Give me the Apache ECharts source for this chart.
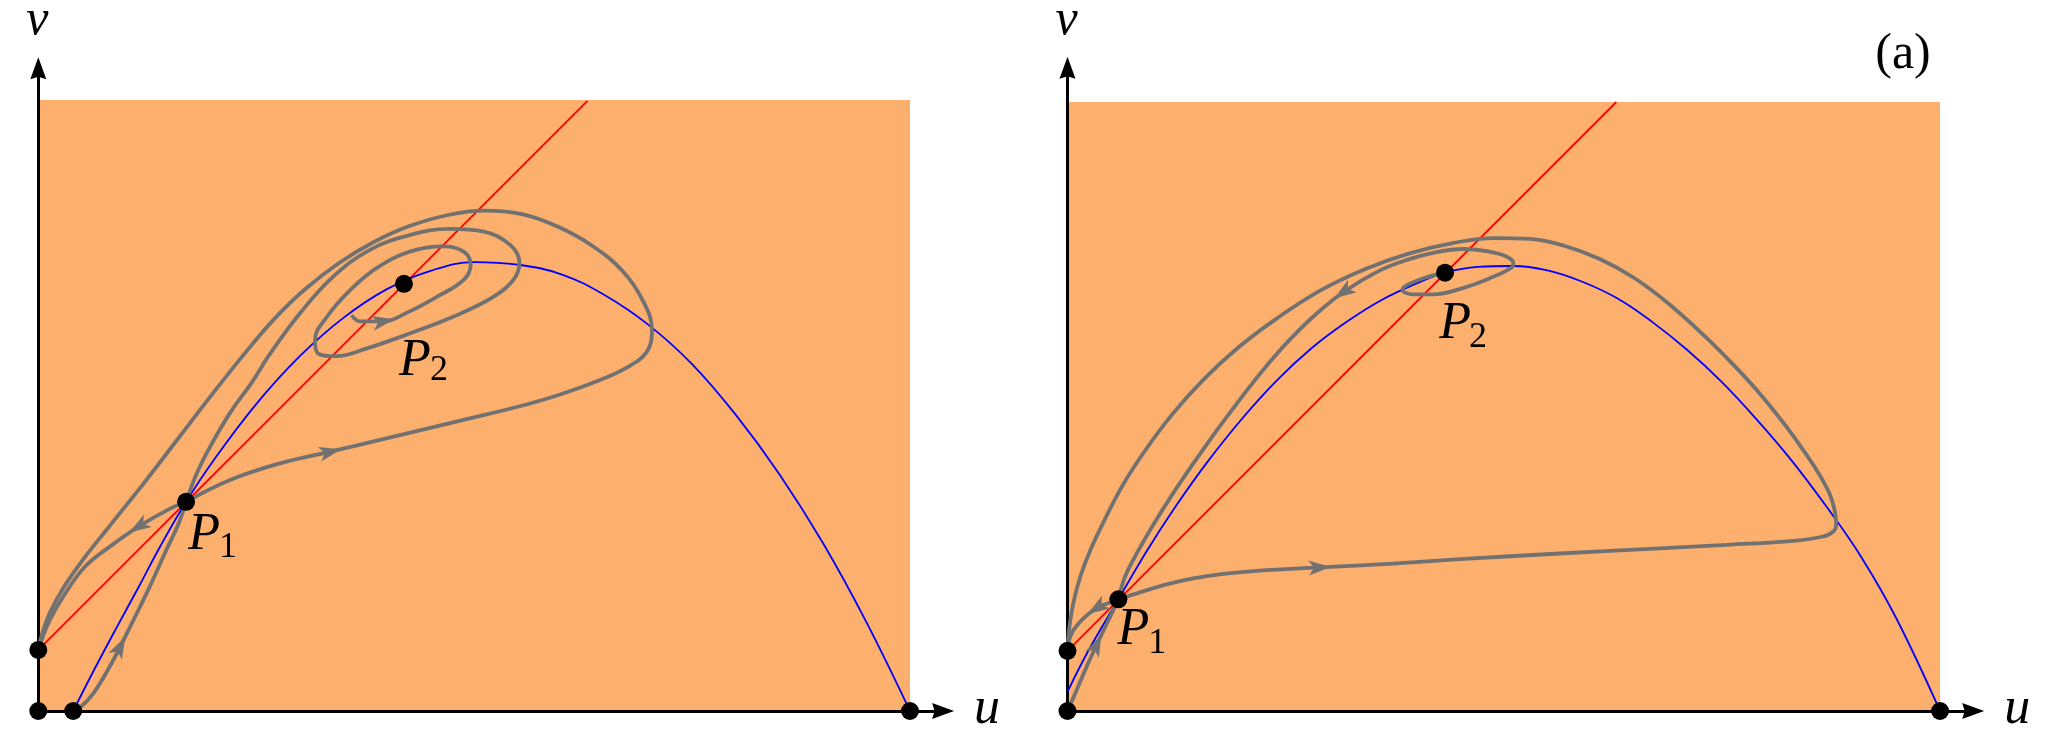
<!DOCTYPE html>
<html><head><meta charset="utf-8">
<script src="https://cdn.jsdelivr.net/npm/echarts@6/dist/echarts.min.js"></script>
<style>html,body{margin:0;padding:0;background:#fff}#c{width:2046px;height:746px}</style>
</head><body><div id="c"></div>
<script>
// ---------- data (u, v) ----------
// Left panel
const leftRegion = [[0, 70.1], [100, 70.1]];
const leftRed = [[0, 7], [63, 70]];
const leftBlue = [[4,0],[6.5,4.9],[9,9.6],[11.5,14.2],[14,18.9],[16.95,24.0],[20,28.6],[25,35.2],[30,40.7],[35,45.1],[40,48.4],[45,50.5],[50,51.5],[55,51.2],[60,50.1],[65,47.7],[70,44.3],[75,39.8],[80,34.0],[85,27.2],[90,19.3],[95,10.2],[100,0]];
const leftOuter = [[0,7],[0.4,8.7],[1.3,11.2],[2.8,14.0],[5.0,17.2],[8.0,21.0],[12.0,26.0],[16.0,31.2],[20.0,36.4],[23.5,40.8],[27.0,44.9],[30.5,48.3],[34.5,51.4],[38.5,53.8],[42.5,55.6],[47.0,56.9],[51.1,57.4],[55.5,57.0],[59.5,55.6],[63.5,53.4],[67.1,50.4],[69.4,47.0],[70.4,43.7],[69.8,41.2],[67.5,39.4],[64.0,37.8],[59.5,36.2],[55.0,34.9],[48.8,33.4],[39.2,31.1],[33.5,29.75],[27.7,28.4],[22.0,26.5],[16.95,24.0]];
const leftToSaddle = [[16.95,24.0],[14.9,23.1],[11.5,21.15],[8.4,19.0],[5.4,16.6],[3.1,13.5],[1.3,10.4],[0.4,8.2],[0,7]];
const leftFromAxis = [[4,0],[4.8,0.4],[6.3,2.0],[8.2,5.1],[9.4,7.4],[10.9,10.4],[12.8,14.3],[14.7,18.5],[16.1,21.5],[16.95,24.0]];
const leftSpiral = [[35.95,45.4],[36.9,44.7],[39.6,44.7],[42.3,45.7],[45.7,47.5],[48.8,49.45],[49.6,51.2],[48.8,52.7],[46.5,53.3],[42.6,52.7],[38.8,50.8],[35.8,48.3],[33.1,45.2],[31.75,42.6],[32.1,41.0],[34.2,40.7],[37.7,41.6],[42.6,43.3],[48.0,45.4],[52.2,47.5],[54.5,49.45],[55.2,51.4],[54.1,53.5],[51.1,55.0],[47.2,55.3],[42.6,54.6],[38.05,52.9],[33.8,49.8],[30.0,45.6],[26.6,41.0],[24.5,37.7],[22.0,34.2],[19.7,30.3],[18.2,27.3],[16.95,24.0]];
const leftDots = [[0,0],[4,0],[100,0],[0,7],[16.95,24.0],[41.95,49.0]];
// arrows: [curve name, point index, direction sign]
const leftArrows = [['outer',30,-1],['toSaddle',2,1],['fromAxis',4,1],['spiral',2,1]];

// Right panel (a)
const rightRegion = [[0, 69.8], [100, 69.8]];
const rightRed = [[0, 6.9], [62.9, 69.8]];
const rightBlue = [[0,2.2],[2.5,7.1],[5.83,12.8],[9,18.2],[12.5,23.6],[16,28.5],[20,33.5],[24,37.9],[28,41.6],[32,44.6],[36,47.1],[40,49.0],[43.27,50.24],[47,50.9],[51,51.0],[55,50.5],[59,49.2],[63,47.3],[67,44.6],[71,41.4],[75,37.7],[79,33.4],[83,28.7],[87,23.4],[91,17.6],[95,10.6],[100,0]];
const rightOuter = [[0,6.9],[0.2,9.5],[0.7,12.5],[1.5,15.5],[2.6,18.4],[4.2,21.8],[6.4,26.0],[9.0,30.0],[12.0,34.0],[15.5,37.9],[19.5,41.6],[24.0,45.0],[29.0,48.2],[34.0,50.6],[39.0,52.4],[44.0,53.6],[48.8,54.2],[53.0,54.1],[57.0,53.3],[61.0,51.8],[65.0,49.6],[69.0,46.6],[73.0,43.0],[76.5,39.5],[79.5,36.2],[82.3,32.7],[84.6,29.5],[86.4,26.7],[87.6,24.2],[88.1,21.4],[87.8,20.6],[86.6,20.0],[83.2,19.5],[75.5,19.05],[67.9,18.65],[56.4,18.05],[45.0,17.4],[37.3,16.9],[28.9,16.45],[22,16.1],[17,15.6],[12.5,14.8],[8.3,13.6],[5.83,12.8]];
const rightSpiral = [[43.27,50.24],[40.8,49.6],[38.9,48.8],[38.4,48.25],[39.6,47.75],[41.9,47.75],[45.4,48.5],[48.4,49.6],[50.7,50.7],[51.1,51.3],[50.3,52.1],[48.0,52.7],[45.4,52.95],[42.3,52.6],[38.9,51.7],[35.8,50.5],[31.6,48.0],[28.5,45.5],[26,43.1],[23.6,40.5],[21.3,37.7],[19,34.7],[16.7,31.6],[14.3,28.2],[12.0,24.8],[9.8,21.3],[7.9,18.0],[6.6,15.4],[5.83,12.8]];
const rightFromOrigin = [[0,0],[1.05,2.4],[2.2,5.1],[3.35,7.6],[4.5,10.0],[5.83,12.8]];
const rightToSaddle = [[5.83,12.8],[4.5,12.3],[3.35,11.8],[1.8,10.6],[0.7,9.3],[0.15,8.0],[0,6.9]];
const rightDots = [[0,0],[0,6.9],[100,0],[5.83,12.8],[43.27,50.24]];
const rightArrows = [['outer',38,-1],['spiral',16,1],['fromOrigin',3,1],['toSaddle',2,1]];

// ---------- style ----------
const ORANGE = '#FDAF6E', GRAY = '#717171';
const U_MAX = 103.8, V_MAX = 73.73;
const AXIS_ARROW = 'path://M8,0 L16,22 L8,19.5 L0,22 Z';
const CURVE_ARROW = 'path://M0,0 L20,7 L0,14 L5,7 Z';

const panels = [
  {region: leftRegion, red: leftRed, blue: leftBlue,
   curves: {outer: leftOuter, toSaddle: leftToSaddle, fromAxis: leftFromAxis, spiral: leftSpiral},
   dots: leftDots, arrows: leftArrows},
  {region: rightRegion, red: rightRed, blue: rightBlue,
   curves: {outer: rightOuter, spiral: rightSpiral, fromOrigin: rightFromOrigin, toSaddle: rightToSaddle},
   dots: rightDots, arrows: rightArrows}
];

const series = [];
panels.forEach((p, gi) => {
  const base = {xAxisIndex: gi, yAxisIndex: gi, silent: true, animation: false};
  series.push(Object.assign({type: 'line', data: p.region, showSymbol: false, symbol: 'none',
    lineStyle: {width: 0, opacity: 0}, areaStyle: {color: ORANGE, opacity: 1}, z: 1}, base));
  series.push(Object.assign({type: 'line', data: p.red, showSymbol: false, symbol: 'none',
    lineStyle: {color: '#ff0000', width: 1.8}, z: 4}, base));
  series.push(Object.assign({type: 'line', data: p.blue, showSymbol: false, symbol: 'none', smooth: 0.4,
    lineStyle: {color: '#0000ff', width: 1.8}, z: 4}, base));
  Object.keys(p.curves).forEach(k => {
    series.push(Object.assign({type: 'line', data: p.curves[k], showSymbol: false, symbol: 'none', smooth: 0.4,
      lineStyle: {color: GRAY, width: 3.8}, z: 5}, base));
  });
  const arrowData = p.arrows.map(a => {
    const c = p.curves[a[0]], i = a[1], s = a[2];
    const du = s * (c[i + 1][0] - c[i - 1][0]), dv = s * (c[i + 1][1] - c[i - 1][1]);
    return {value: c[i], symbolRotate: Math.atan2(dv, du) * 180 / Math.PI};
  });
  series.push(Object.assign({type: 'scatter', data: arrowData, symbol: CURVE_ARROW, symbolSize: [22, 15],
    itemStyle: {color: GRAY, opacity: 1}, z: 6}, base));
  series.push(Object.assign({type: 'scatter', data: p.dots, symbol: 'circle', symbolSize: 18,
    itemStyle: {color: '#000', opacity: 1}, z: 8}, base));
});

function axis(gi, max) {
  return {gridIndex: gi, type: 'value', min: 0, max: max, z: 3,
    axisLine: {show: true, onZero: false, symbol: ['none', AXIS_ARROW], symbolSize: [16, 22],
      lineStyle: {color: '#000', width: 3}},
    axisTick: {show: false}, axisLabel: {show: false}, splitLine: {show: false}};
}

const chart = echarts.init(document.getElementById('c'), null, {renderer: 'canvas'});
chart.setOption({
  animation: false,
  backgroundColor: '#fff',
  grid: [
    {left: 38.3, top: 68.3, width: 904.8, height: 642.7, containLabel: false, outerBoundsMode: 'none'},
    {left: 1067.5, top: 67.7, width: 905.7, height: 643.3, containLabel: false, outerBoundsMode: 'none'}
  ],
  xAxis: [axis(0, U_MAX), axis(1, U_MAX)],
  yAxis: [axis(0, V_MAX), axis(1, V_MAX)],
  series: series
});

// ---------- labels ----------
function txt(x, y, text, size, italic) {
  return {type: 'text', x: x, y: y, z: 20, silent: true,
    style: {text: text, fill: '#000', fontFamily: 'Liberation Serif', fontSize: size,
      fontStyle: italic ? 'italic' : 'normal',
      textAlign: 'center', textVerticalAlign: 'middle', align: 'center', verticalAlign: 'middle'}};
}
const pointLabels = [
  {gi: 0, pt: leftDots[4], sub: '1', dP: [18, 34], dS: [42, 46]},
  {gi: 0, pt: leftDots[5], sub: '2', dP: [11, 77], dS: [35, 87]},
  {gi: 1, pt: rightDots[3], sub: '1', dP: [15, 31], dS: [39, 44]},
  {gi: 1, pt: rightDots[4], sub: '2', dP: [10, 52], dS: [33, 65]}
];
const graphics = [];
pointLabels.forEach(l => {
  const px = chart.convertToPixel({gridIndex: l.gi}, l.pt);
  graphics.push(txt(px[0] + l.dP[0], px[1] + l.dP[1], 'P', 52, true));
  graphics.push(txt(px[0] + l.dS[0], px[1] + l.dS[1], l.sub, 36, false));
});
[0, 1].forEach(gi => {
  const o = chart.convertToPixel({gridIndex: gi}, [0, 0]);
  const ue = chart.convertToPixel({gridIndex: gi}, [U_MAX, 0]);
  const ve = chart.convertToPixel({gridIndex: gi}, [0, V_MAX]);
  graphics.push(txt(ue[0] + 44, o[1] - 2, 'u', 52, true));
  graphics.push(txt(o[0] - 1, ve[1] - 47, 'v', 50, true));
});
graphics.push(txt(1903, 55, '(a)', 50, false));
chart.setOption({graphic: graphics});
</script>
</body></html>
